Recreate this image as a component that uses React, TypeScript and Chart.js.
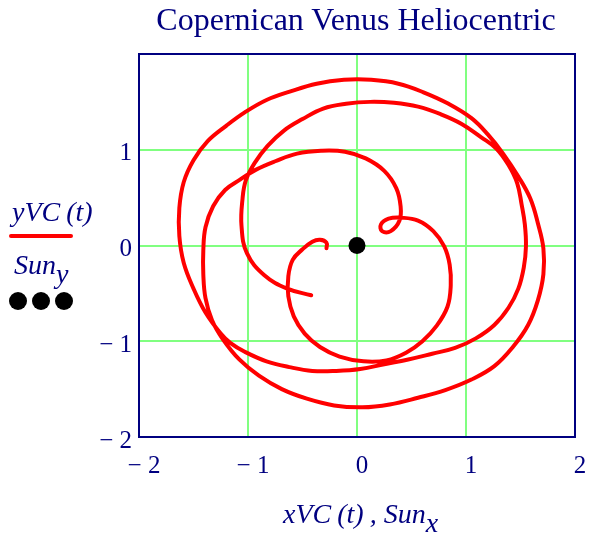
import React, { useEffect, useRef } from "react";
import { Chart, registerables } from "chart.js";

Chart.register(...registerables);

const chartTitle = "Copernican Venus Heliocentric";

// Venus trace xVC(t), yVC(t) in plot units (in path order)
const xVC = [
  // start, up the left, second arc over the top, down the right, back along the bottom
  -0.42, -0.64, -0.85, -1.01, -1.06, -1.05, -1.02, -0.94, -0.82, -0.67, -0.5, -0.31, -0.1, 0.12, 0.34, 0.56, 0.77, 0.96, 1.14, 1.28, 1.39, 1.47, 1.51, 1.54, 1.55,
  1.53, 1.48, 1.39, 1.26, 1.09, 0.9, 0.69, 0.47, 0.25, 0.03, -0.19, -0.41, -0.62, -0.83, -1.03, -1.16, -1.25,
  // outer loop
  -1.39, -1.5, -1.59, -1.63, -1.63, -1.59, -1.5, -1.37, -1.2, -1.03, -0.83, -0.61, -0.37, -0.12, 0.13, 0.38, 0.61, 0.84, 1.05, 1.2, 1.34, 1.48, 1.59, 1.66, 1.71,
  1.71, 1.66, 1.57, 1.43, 1.26, 1.05, 0.81, 0.56, 0.3, 0.05, -0.21, -0.46, -0.69, -0.9, -1.08, -1.23,
  // inner left, inner arc, small loop
  -1.33, -1.39, -1.41, -1.41, -1.39, -1.32, -1.21, -1.07, -0.93, -0.75, -0.55, -0.33, -0.11, 0.08, 0.25, 0.36, 0.4, 0.39, 0.31, 0.23, 0.22, 0.29, 0.41, 0.56, 0.7,
  // innermost loop to the end
  0.8, 0.85, 0.86, 0.83, 0.73, 0.6, 0.45, 0.27, 0.06, -0.16, -0.34, -0.48, -0.58, -0.63, -0.63, -0.59, -0.5, -0.41, -0.34, -0.28, -0.28,
];
const yVC = [
  -0.52, -0.45, -0.31, -0.08, 0.21, 0.49, 0.68, 0.86, 1.04, 1.2, 1.32, 1.43, 1.48, 1.5, 1.49, 1.45, 1.37, 1.27, 1.13, 1.01, 0.84, 0.65, 0.43, 0.22, -0.01,
  -0.23, -0.45, -0.65, -0.83, -0.97, -1.07, -1.13, -1.19, -1.24, -1.29, -1.31, -1.31, -1.27, -1.21, -1.11, -1.02, -0.92,
  -0.7, -0.45, -0.18, 0.1, 0.39, 0.66, 0.89, 1.09, 1.25, 1.39, 1.52, 1.61, 1.69, 1.73, 1.73, 1.69, 1.6, 1.48, 1.33, 1.16, 0.96, 0.72, 0.49, 0.23, -0.03,
  -0.3, -0.57, -0.83, -1.06, -1.26, -1.4, -1.51, -1.59, -1.66, -1.69, -1.67, -1.6, -1.5, -1.36, -1.19, -0.98,
  -0.78, -0.55, -0.3, -0.05, 0.19, 0.41, 0.58, 0.69, 0.79, 0.88, 0.96, 0.99, 0.98, 0.91, 0.78, 0.6, 0.41, 0.26, 0.15, 0.15, 0.22, 0.28, 0.29, 0.26, 0.15,
  -0.01, -0.2, -0.42, -0.64, -0.84, -1.0, -1.12, -1.2, -1.21, -1.16, -1.06, -0.92, -0.74, -0.53, -0.32, -0.15, -0.04, 0.04, 0.06, 0.03, -0.03,
];

// Sun position
const sunX = [0];
const sunY = [0];

// Axes
const xRange = [-2, 2];
const yRange = [-2, 2];
const xTickValues = [-2, -1, 0, 1, 2];
const yTickValues = [-2, -1, 0, 1, 2];
const yTickHidden = [2];

const NAVY = "#000080";
const GRID = "#80ff80";
const RED = "#ff0000";
const SERIF = "'Liberation Serif', 'Times New Roman', serif";

const fmt = (v: number) => (v < 0 ? "\u2212 " + Math.abs(v) : String(v));

const framePlugin = {
  id: "frame",
  afterDraw(chart: any) {
    const { ctx, chartArea } = chart;
    ctx.save();
    ctx.strokeStyle = NAVY;
    ctx.lineWidth = 2;
    ctx.strokeRect(chartArea.left, chartArea.top, chartArea.right - chartArea.left, chartArea.bottom - chartArea.top);
    ctx.restore();
  },
};

function Text({ x, base, size, children, italic = true, color = NAVY }: any) {
  return (
    <div
      style={{
        position: "absolute",
        left: x,
        top: base - 0.8375 * size,
        fontFamily: SERIF,
        fontSize: size,
        lineHeight: `${size}px`,
        fontStyle: italic ? "italic" : "normal",
        color,
        whiteSpace: "nowrap",
      }}
    >
      {children}
    </div>
  );
}

export default function App() {
  const ref = useRef<HTMLCanvasElement>(null);

  useEffect(() => {
    if (!ref.current) return;
    const venus = xVC.map((x, i) => ({ x, y: yVC[i] }));
    const sun = sunX.map((x, i) => ({ x, y: sunY[i] }));
    const chart = new Chart(ref.current, {
      type: "line",
      data: {
        datasets: [
          {
            type: "line",
            data: venus,
            borderColor: RED,
            borderWidth: 4,
            borderCapStyle: "round",
            borderJoinStyle: "round",
            pointRadius: 0,
            tension: 0.4,
            cubicInterpolationMode: "default",
            fill: false,
            spanGaps: true,
          },
          {
            type: "scatter",
            data: sun,
            showLine: false,
            pointRadius: 8.5,
            pointBackgroundColor: "#000000",
            pointBorderWidth: 0,
            backgroundColor: "#000000",
          },
        ],
      },
      options: {
        animation: false,
        responsive: false,
        events: [],
        layout: { padding: { left: 0, top: 54, right: 14, bottom: 0 } },
        plugins: { legend: { display: false }, title: { display: false }, tooltip: { enabled: false } },
        scales: {
          x: {
            type: "linear",
            min: xRange[0],
            max: xRange[1],
            afterBuildTicks: (s: any) => {
              s.ticks = xTickValues.map((v) => ({ value: v }));
            },
            afterFit: (s: any) => {
              s.height = 96;
              s.paddingLeft = 0;
              s.paddingRight = 0;
            },
            grid: {
              color: (c: any) => (c.tick && Math.abs(c.tick.value) < 2 ? GRID : "rgba(0,0,0,0)"),
              lineWidth: 2,
              drawTicks: false,
            },
            border: { display: false },
            ticks: {
              color: NAVY,
              font: { family: SERIF, size: 25 },
              padding: 14,
              labelOffset: 5,
              maxRotation: 0,
              autoSkip: false,
              callback: (v: any) => fmt(Number(v)),
            },
          },
          y: {
            type: "linear",
            min: yRange[0],
            max: yRange[1],
            afterBuildTicks: (s: any) => {
              s.ticks = yTickValues.map((v) => ({ value: v }));
            },
            afterFit: (s: any) => {
              s.width = 139;
              s.paddingTop = 0;
              s.paddingBottom = 0;
            },
            grid: {
              color: (c: any) => (c.tick && Math.abs(c.tick.value) < 2 ? GRID : "rgba(0,0,0,0)"),
              lineWidth: 2,
              drawTicks: false,
            },
            border: { display: false },
            ticks: {
              color: NAVY,
              font: { family: SERIF, size: 25 },
              padding: 7,
              labelOffset: 4,
              autoSkip: false,
              callback: (v: any) => (yTickHidden.includes(Number(v)) ? "" : fmt(Number(v))),
            },
          },
        },
      },
      plugins: [framePlugin],
    });
    return () => chart.destroy();
  }, []);

  return (
    <div style={{ position: "absolute", left: 0, top: 0, width: 589, height: 533, background: "#fff" }}>
      <canvas ref={ref} width={589} height={533} style={{ position: "absolute", left: 0, top: 0 }} />
      <div
        style={{
          position: "absolute",
          left: 356,
          top: 30 - 0.8375 * 32,
          transform: "translateX(-50%)",
          fontFamily: SERIF,
          fontSize: 32,
          lineHeight: "32px",
          color: NAVY,
          whiteSpace: "nowrap",
        }}
      >
        {chartTitle}
      </div>
      <Text x={12} base={221} size={28}>
        yVC<span style={{ marginLeft: 6 }}>(t)</span>
      </Text>
      <div style={{ position: "absolute", left: 9, top: 234, width: 64, height: 4, background: RED, borderRadius: 2 }} />
      <Text x={14} base={274} size={28}>
        Sun<span style={{ position: "relative", top: 9 }}>y</span>
      </Text>
      {[18, 41, 64].map((cx) => (
        <div
          key={cx}
          style={{ position: "absolute", left: cx - 9, top: 301 - 9, width: 18, height: 18, borderRadius: "50%", background: "#000" }}
        />
      ))}
      <Text x={283} base={523} size={28}>
        xVC<span style={{ marginLeft: 6 }}>(t)</span>
        <span style={{ marginLeft: 6 }}>, Sun</span>
        <span style={{ position: "relative", top: 9 }}>x</span>
      </Text>
    </div>
  );
}
